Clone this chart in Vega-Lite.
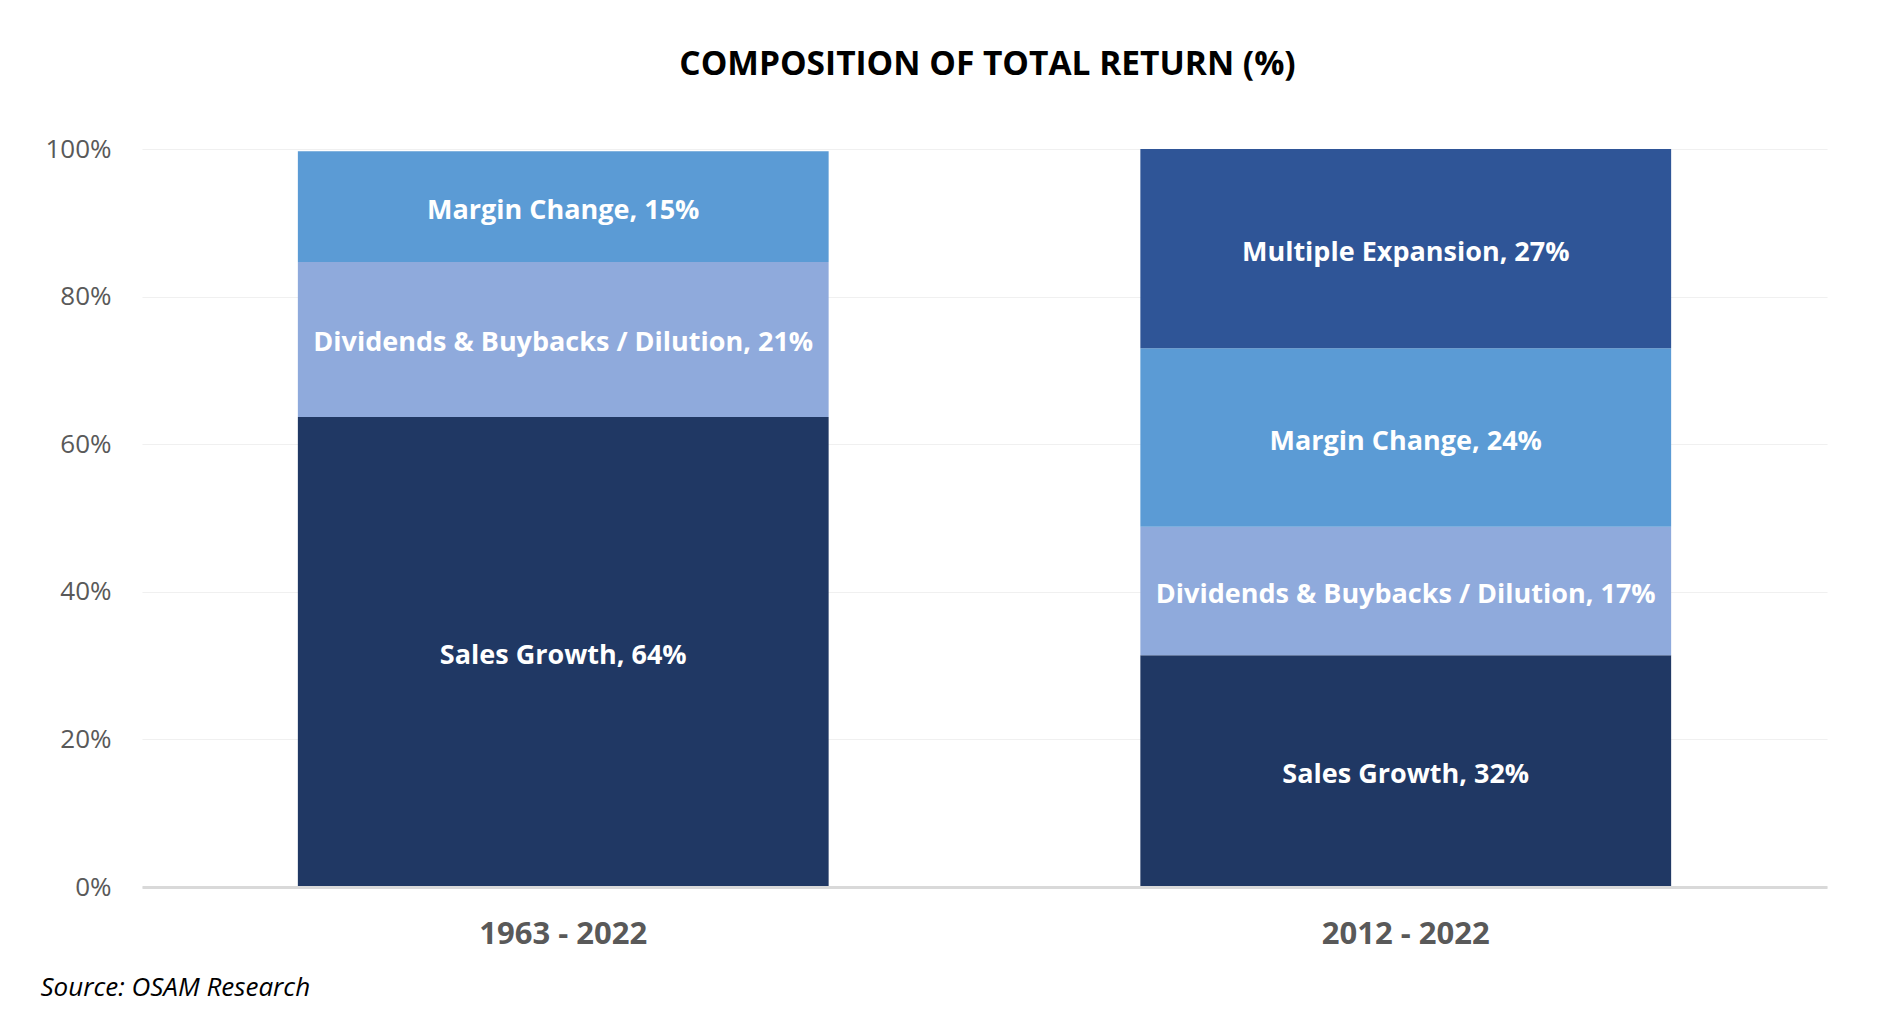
{
  "$schema": "https://vega.github.io/schema/vega-lite/v6.json",
  "autosize": "none",
  "width": 1685,
  "height": 738,
  "padding": {"left": 142, "top": 149, "right": 61, "bottom": 147},
  "background": "white",
  "title": {
    "text": "COMPOSITION OF TOTAL RETURN (%)",
    "font": "Open Sans",
    "fontSize": 33.5,
    "fontWeight": "bold",
    "color": "#000000",
    "anchor": "middle",
    "dx": 3,
    "offset": 54
  },
  "data": {
    "values": [
      {"period": "1963 - 2022", "component": "Sales Growth", "order": 1, "value": 63.7, "label": "Sales Growth, 64%"},
      {"period": "1963 - 2022", "component": "Dividends & Buybacks / Dilution", "order": 2, "value": 21.0, "label": "Dividends & Buybacks / Dilution, 21%"},
      {"period": "1963 - 2022", "component": "Margin Change", "order": 3, "value": 15.0, "label": "Margin Change, 15%"},
      {"period": "2012 - 2022", "component": "Sales Growth", "order": 1, "value": 31.4, "label": "Sales Growth, 32%"},
      {"period": "2012 - 2022", "component": "Dividends & Buybacks / Dilution", "order": 2, "value": 17.4, "label": "Dividends & Buybacks / Dilution, 17%"},
      {"period": "2012 - 2022", "component": "Margin Change", "order": 3, "value": 24.2, "label": "Margin Change, 24%"},
      {"period": "2012 - 2022", "component": "Multiple Expansion", "order": 4, "value": 27.0, "label": "Multiple Expansion, 27%"}
    ]
  },
  "transform": [
    {"stack": "value", "groupby": ["period"], "sort": [{"field": "order", "order": "ascending"}], "as": ["v0", "v1"]},
    {"calculate": "(datum.v0 + datum.v1) / 2", "as": "vmid"}
  ],
  "encoding": {
    "x": {
      "field": "period",
      "type": "nominal",
      "sort": ["1963 - 2022", "2012 - 2022"],
      "scale": {"paddingInner": 0.37, "paddingOuter": 0.185},
      "axis": {
        "title": "Source: OSAM Research",
        "titleFont": "Open Sans",
        "titleFontSize": 26,
        "titleFontStyle": "italic",
        "titleFontWeight": "normal",
        "titleColor": "#000000",
        "titleAnchor": "start",
        "titleAlign": "left",
        "titleBaseline": "middle",
        "titleX": -102,
        "titleY": 100,
        "labelAngle": 0,
        "labelFont": "Open Sans",
        "labelFontSize": 31,
        "labelFontWeight": "bold",
        "labelColor": "#595959",
        "labelPadding": 32,
        "ticks": false,
        "domain": true,
        "domainColor": "#d9d9d9",
        "domainWidth": 3,
        "grid": false
      }
    }
  },
  "layer": [
    {
      "mark": {"type": "rect"},
      "encoding": {
        "y": {
          "field": "v0",
          "type": "quantitative",
          "scale": {"domain": [0, 100], "nice": false},
          "axis": {
            "title": null,
            "values": [0, 20, 40, 60, 80, 100],
            "labelExpr": "datum.value + '%'",
            "labelFont": "Open Sans",
            "labelFontSize": 26,
            "labelColor": "#595959",
            "labelPadding": 31,
            "ticks": false,
            "domain": false,
            "grid": true,
            "gridColor": "#f0f0f0",
            "gridWidth": 1.2
          }
        },
        "y2": {"field": "v1"},
        "color": {
          "field": "component",
          "type": "nominal",
          "scale": {
            "domain": ["Sales Growth", "Dividends & Buybacks / Dilution", "Margin Change", "Multiple Expansion"],
            "range": ["#203864", "#8faadc", "#5b9bd5", "#2f5597"]
          },
          "legend": null
        }
      }
    },
    {
      "mark": {"type": "text", "font": "Open Sans", "fontSize": 27, "fontWeight": "bold", "color": "white", "baseline": "middle", "align": "center", "dy": 4},
      "encoding": {
        "y": {"field": "vmid", "type": "quantitative"},
        "text": {"field": "label"}
      }
    }
  ],
  "config": {
    "view": {"stroke": null}
  }
}
